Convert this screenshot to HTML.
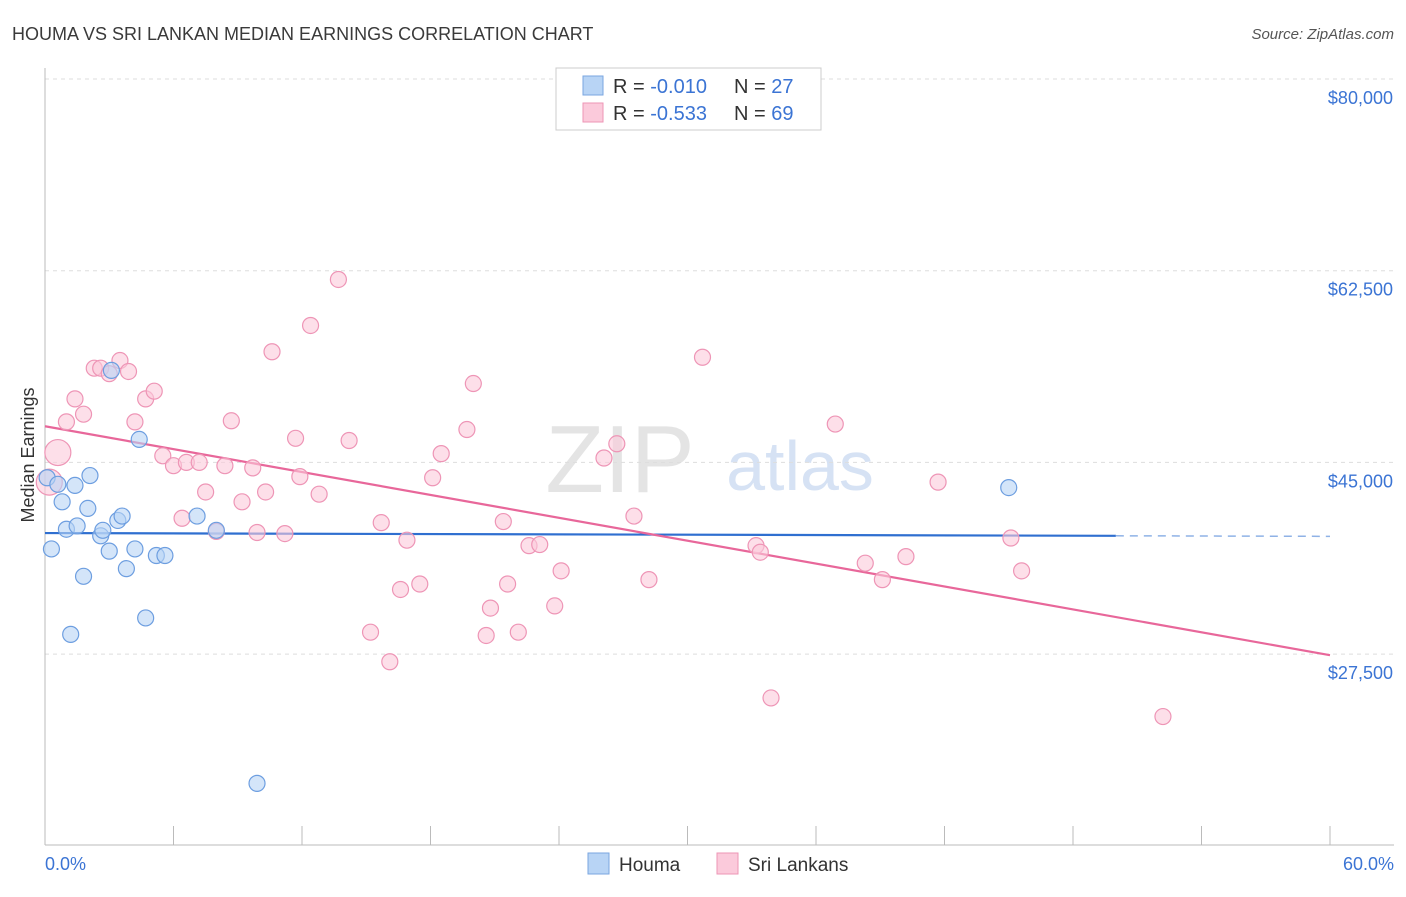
<!DOCTYPE html>
<html><head><meta charset="utf-8"><style>
body{margin:0;background:#fff;font-family:"Liberation Sans",sans-serif;}
svg text{font-family:"Liberation Sans",sans-serif;}
</style></head><body>
<svg id="chart" width="1406" height="892">
<text x="12" y="40" font-size="18" fill="#3a3a3a">HOUMA VS SRI LANKAN MEDIAN EARNINGS CORRELATION CHART</text>
<text x="1394" y="39" font-size="15" fill="#555" font-style="italic" text-anchor="end">Source: ZipAtlas.com</text>
<text x="620" y="492" font-size="96" fill="#e4e4e4" font-family="Liberation Serif" text-anchor="middle">ZIP</text>
<text x="800" y="490" font-size="70" fill="#d6e2f4" text-anchor="middle">atlas</text>
<text transform="translate(34,455) rotate(-90)" font-size="18" fill="#333" text-anchor="middle">Median Earnings</text>
<g id="grid"></g><g id="axes"></g><g id="trend"></g><g id="pts"></g>
<g>
<rect x="556" y="68" width="265" height="62" fill="#fff" stroke="#ccc"/>
<rect x="583" y="76" width="20" height="19" fill="#b8d4f5" stroke="#7aa6e0"/>
<rect x="583" y="103" width="20" height="19" fill="#fbcadb" stroke="#ee95b6"/>
<text x="613" y="93" font-size="20" fill="#333">R = <tspan fill="#3b74d4">-0.010</tspan><tspan dx="27">N = </tspan><tspan fill="#3b74d4">27</tspan></text>
<text x="613" y="120" font-size="20" fill="#333">R = <tspan fill="#3b74d4">-0.533</tspan><tspan dx="27">N = </tspan><tspan fill="#3b74d4">69</tspan></text>
</g>
<g>
<rect x="588" y="853" width="21" height="21" fill="#b8d4f5" stroke="#7aa6e0"/>
<text x="619" y="871" font-size="19" fill="#333">Houma</text>
<rect x="717" y="853" width="21" height="21" fill="#fbcadb" stroke="#ee95b6"/>
<text x="748" y="871" font-size="19" fill="#333">Sri Lankans</text>
</g>
</svg>
<script>
const yTicks=[80000,62500,45000,27500];
const yTickLabels=["$80,000","$62,500","$45,000","$27,500"];
const xTickLabels=["0.0%","60.0%"];
const houmaX=[0.1,0.3,0.6,0.8,1.0,1.2,1.4,1.5,1.8,2.0,2.1,2.6,2.7,3.0,3.1,3.4,3.6,3.8,4.2,4.4,4.7,5.2,5.6,7.1,8.0,9.9,45.0];
const houmaY=[43.6,37.1,43.0,41.4,38.9,29.3,42.9,39.2,34.6,40.8,43.8,38.3,38.8,36.9,53.4,39.7,40.1,35.3,37.1,47.1,30.8,36.5,36.5,40.1,38.8,15.7,42.7];
const sriX=[0.2,0.6,1.0,1.4,1.8,2.3,2.6,3.0,3.5,3.9,4.2,4.7,5.1,5.5,6.0,6.4,6.6,7.2,7.5,8.0,8.4,8.7,9.2,9.7,9.9,10.3,10.6,11.2,11.7,11.9,12.4,12.8,13.7,14.2,15.2,15.7,16.1,16.6,16.9,17.5,18.1,18.5,19.7,20.0,20.6,20.8,21.4,21.6,22.1,22.6,23.1,23.8,24.1,26.1,26.7,27.5,28.2,30.7,33.2,33.4,33.9,36.9,38.3,39.1,40.2,41.7,45.1,45.6,52.2];
const sriY=[43.2,45.9,48.7,50.8,49.4,53.6,53.6,53.1,54.3,53.3,48.7,50.8,51.5,45.6,44.7,39.9,45.0,45.0,42.3,38.7,44.7,48.8,41.4,44.5,38.6,42.3,55.1,38.5,47.2,43.7,57.5,42.1,61.7,47.0,29.5,39.5,26.8,33.4,37.9,33.9,43.6,45.8,48.0,52.2,29.2,31.7,39.6,33.9,29.5,37.4,37.5,31.9,35.1,45.4,46.7,40.1,34.3,54.6,37.4,36.8,23.5,48.5,35.8,34.3,36.4,43.2,38.1,35.1,21.8];
const houmaTrend=[38.55,38.3], houmaTrendEnd=50;
const sriTrend=[48.3,27.4];
const NS="http://www.w3.org/2000/svg";
const X=p=>45+p/60*1285;
const Y=v=>79+(80-v)/17.5*191.7;
function mk(tag,attrs,parent){const e=document.createElementNS(NS,tag);for(const k in attrs)e.setAttribute(k,attrs[k]);document.getElementById(parent).appendChild(e);return e;}
yTicks.forEach((t,i)=>{
 const y=Y(t/1000);
 const g=mk('line',{x1:45,x2:1394,y1:y,y2:y,stroke:'#ddd','stroke-dasharray':'4,4'},'grid');
 
 
 const l=mk('text',{x:1393,y:y+25,'font-size':18,fill:'#3b74d4','text-anchor':'end'},'grid');
 l.textContent=yTickLabels[i];
 
 
});
const ax=mk('line',{x1:45,x2:45,y1:68,y2:845,stroke:'#bbb'},'axes');


const bx=mk('line',{x1:45,x2:1394,y1:845,y2:845,stroke:'#bbb'},'axes');


for(let i=0;i<=10;i++){const t=mk('line',{x1:X(i*6),x2:X(i*6),y1:826,y2:845,stroke:'#bbb'},'axes');
 
 }
[[0,'start',45],[1,'end',1394]].forEach(([i,a,x])=>{const t=mk('text',{x:x,y:870,'font-size':18,fill:'#3b74d4','text-anchor':a},'axes');t.textContent=xTickLabels[i];
 
 });
function dot(x,y,r,f,s){const c=mk('circle',{cx:X(x),cy:Y(y),r:r,fill:f,stroke:s,'stroke-width':1.2,'fill-opacity':0.6},'pts');return c;}
sriX.forEach((x,i)=>{const c=dot(x,sriY[i],i<2?13:8,'#fbcadb','#ee95b6');
 
 });
houmaX.forEach((x,i)=>{const c=dot(x,houmaY[i],8,'#b8d4f5','#6d9ee0');
 
 });
const hs=(houmaTrend[1]-houmaTrend[0])/houmaTrendEnd;
const l1=mk('line',{x1:X(0),y1:Y(houmaTrend[0]),x2:X(houmaTrendEnd),y2:Y(houmaTrend[1]),stroke:'#2f6fd0','stroke-width':2.2},'trend');


const l2=mk('line',{x1:X(houmaTrendEnd),y1:Y(houmaTrend[1]),x2:X(60),y2:Y(houmaTrend[0]+hs*60),stroke:'#8fb2e6','stroke-width':1.5,'stroke-dasharray':'8,6'},'trend');


const l3=mk('line',{x1:X(0),y1:Y(sriTrend[0]),x2:X(60),y2:Y(sriTrend[1]),stroke:'#e8679a','stroke-width':2.2},'trend');


</script>
</body></html>
